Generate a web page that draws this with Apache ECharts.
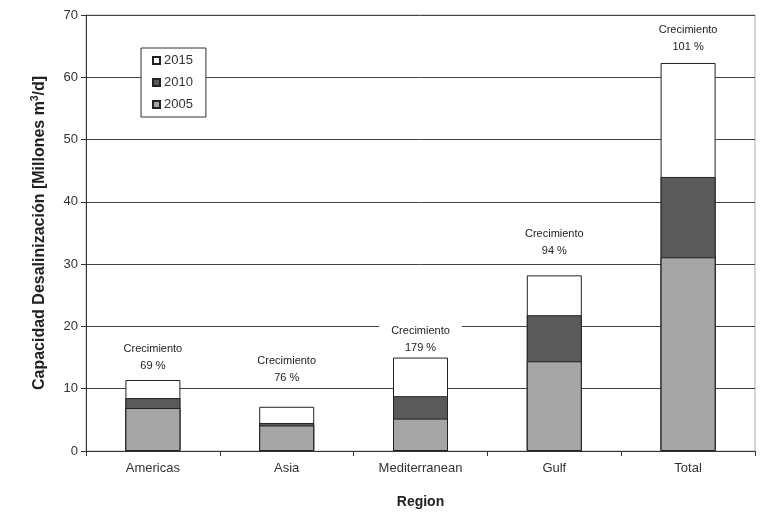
<!DOCTYPE html>
<html>
<head>
<meta charset="utf-8">
<script src="https://cdn.jsdelivr.net/npm/echarts@6/dist/echarts.min.js"></script>
<style>
  html, body { margin: 0; padding: 0; background: #fff; }
  #chart { width: 778px; height: 514px; }
</style>
</head>
<body>
<div id="chart"></div>
<script>
// Installed desalination capacity by region (million m3/day)
const regions = ['Americas', 'Asia', 'Mediterranean', 'Gulf', 'Total'];
const cap2005 = [6.9, 4.1, 5.2, 14.4, 31.1];
const cap2010 = [8.5, 4.5, 8.8, 21.8, 44.0];
const cap2015 = [11.4, 7.1, 15.0, 28.2, 62.3];
const growthLabels = ['69 %', '76 %', '179 %', '94 %', '101 %'];
const yTicks = [0, 10, 20, 30, 40, 50, 60, 70];

// gap between each growth note and the top of its bar
const noteGap = [6, 20, 1, 16, 7];

const font = 'Arial, "Liberation Sans", sans-serif';
const edge = '#222';

const chart = echarts.init(document.getElementById('chart'), null, { renderer: 'canvas' });

// Each year is drawn as a full-height bar from zero; the later (larger)
// totals sit behind the earlier ones so the increments show as bands.
function yearSeries(name, values, color, withNotes) {
  return {
    name: name,
    type: 'bar',
    barWidth: 55,
    barGap: '-100%',
    itemStyle: { color: color, borderColor: edge, borderWidth: 1 },
    emphasis: { disabled: true },
    data: values.map((v, i) => {
      const item = { value: v };
      if (withNotes) {
        item.label = {
          show: true,
          position: 'top',
          distance: noteGap[i],
          backgroundColor: '#fff',
          padding: [0, 12, 0, 12],
          formatter: '{a|Crecimiento}\n{b|' + growthLabels[i] + '}',
          rich: {
            a: { fontFamily: font, fontSize: 11, color: '#222', lineHeight: 17, align: 'center' },
            b: { fontFamily: font, fontSize: 11, color: '#222', lineHeight: 17, align: 'center' }
          }
        };
      }
      return item;
    })
  };
}

chart.setOption({
  animation: false,
  backgroundColor: '#fff',
  grid: {
    left: 86, right: 23, top: 15, bottom: 61,
    show: true, borderColor: '#b0b0b0', borderWidth: 1
  },
  legend: {
    orient: 'vertical',
    left: 141, top: 48,
    backgroundColor: '#fff',
    borderColor: '#333', borderWidth: 1,
    padding: [6, 13, 6, 11],
    itemWidth: 7, itemHeight: 7, itemGap: 9,
    icon: 'rect',
    textStyle: { fontFamily: font, fontSize: 13, color: '#333', padding: [0, 0, 0, -1] },
    data: ['2015', '2010', '2005']
  },
  xAxis: {
    type: 'category',
    data: regions,
    name: 'Region',
    nameLocation: 'middle',
    nameGap: 44,
    nameTextStyle: { fontFamily: font, fontSize: 14, fontWeight: 'bold', color: '#222' },
    axisLine: { lineStyle: { color: '#333', width: 1 } },
    axisTick: { show: true, length: 5, lineStyle: { color: '#333' } },
    axisLabel: { fontFamily: font, fontSize: 13, color: '#333', margin: 11 }
  },
  yAxis: {
    type: 'value',
    min: yTicks[0],
    max: yTicks[yTicks.length - 1],
    interval: 10,
    name: '{t|Capacidad Desalinización [Millones m}{s|3}{t|/d]}',
    nameLocation: 'middle',
    nameGap: 38,
    nameTextStyle: {
      rich: {
        t: { fontFamily: font, fontSize: 16, fontWeight: 'bold', color: '#222', verticalAlign: 'bottom', lineHeight: 18 },
        s: { fontFamily: font, fontSize: 10, fontWeight: 'bold', color: '#222', verticalAlign: 'top', lineHeight: 18 }
      }
    },
    axisLine: { show: true, lineStyle: { color: '#333', width: 1 } },
    axisTick: { show: true, length: 5, lineStyle: { color: '#333' } },
    axisLabel: { fontFamily: font, fontSize: 13, color: '#333', margin: 8 },
    splitLine: { show: true, lineStyle: { color: '#444', width: 1 } }
  },
  series: [
    yearSeries('2015', cap2015, '#ffffff', true),
    yearSeries('2010', cap2010, '#5a5a5a', false),
    yearSeries('2005', cap2005, '#a6a6a6', false)
  ]
});
</script>
</body>
</html>
